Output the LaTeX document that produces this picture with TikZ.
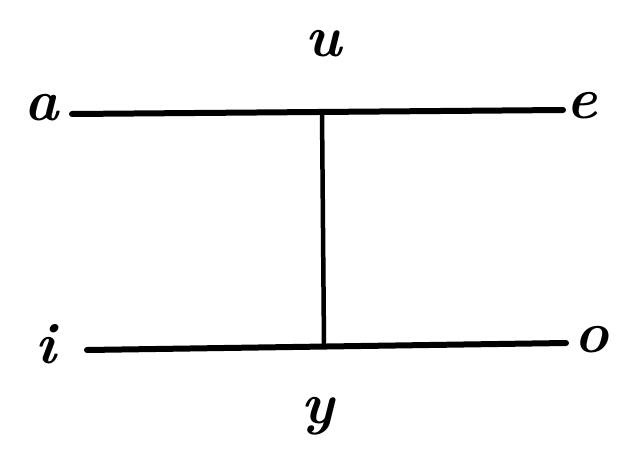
\documentclass[tikz,border=0pt]{standalone}
\begin{document}
\begin{tikzpicture}[x=1pt,y=-1pt,
  bar/.style={line width=6pt,line cap=round},
  stem/.style={line width=4.5pt},
  lbl/.style={font=\fontsize{58}{58}\selectfont\bfseries\itshape,inner sep=0pt}]
\useasboundingbox (0,0) rectangle (640,453);
\node[lbl] (a) at (42,108) {a};
\node[lbl] (u) at (324,44) {u};
\node[lbl] (e) at (582,106) {e};
\node[lbl] (i) at (46,344) {i};
\node[lbl] (o) at (592,340) {o};
\node[lbl] (y) at (318,416) {y};
\coordinate (tl) at (72,114);
\coordinate (tr) at (563,110);
\coordinate (tm) at (322,111);
\coordinate (bl) at (87,350);
\coordinate (br) at (566,343);
\coordinate (bm) at (324,346);
\draw[bar] (tl) -- (tr);
\draw[bar] (bl) -- (br);
\draw[stem] (tm) -- (bm);
\end{tikzpicture}
\end{document}
